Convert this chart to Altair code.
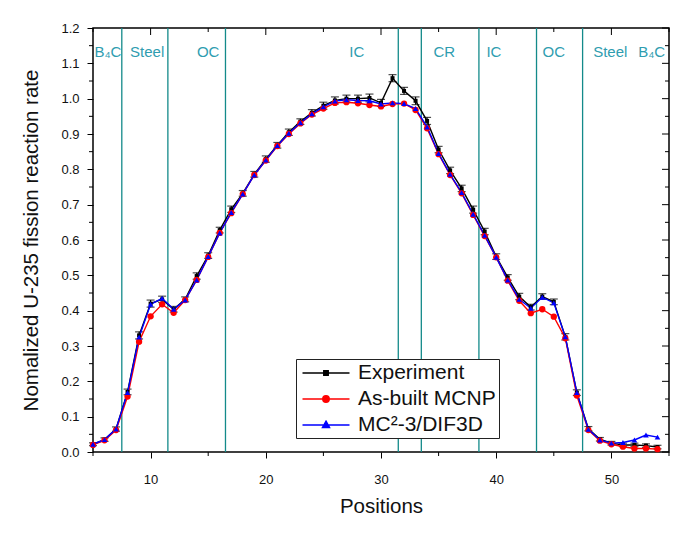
import altair as alt
import pandas as pd

positions = list(range(5, 55))
experiment = [0.022, 0.035, 0.065, 0.170, 0.330, 0.420, 0.432, 0.404, 0.432, 0.498,
              0.556, 0.628, 0.687, 0.732, 0.786, 0.829, 0.868, 0.905, 0.935, 0.960,
              0.980, 0.995, 1.000, 1.000, 1.002, 0.988, 1.058, 1.022, 0.994, 0.937,
              0.856, 0.797, 0.746, 0.686, 0.624, 0.553, 0.494, 0.440, 0.410, 0.440,
              0.425, 0.326, 0.168, 0.066, 0.036, 0.025, 0.020, 0.020, 0.018, 0.014]
exp_err = [0.004, 0.005, 0.006, 0.008, 0.010, 0.010, 0.009, 0.008, 0.007, 0.009,
           0.008, 0.008, 0.009, 0.008, 0.008, 0.009, 0.008, 0.009, 0.008, 0.009,
           0.010, 0.010, 0.010, 0.010, 0.011, 0.010, 0.010, 0.010, 0.011, 0.010,
           0.009, 0.009, 0.009, 0.010, 0.009, 0.008, 0.008, 0.009, 0.008, 0.008,
           0.008, 0.009, 0.008, 0.006, 0.005, 0.005, 0.005, 0.005, 0.005, 0.005]
mcnp = [0.020, 0.033, 0.062, 0.157, 0.312, 0.384, 0.418, 0.394, 0.430, 0.487,
        0.552, 0.620, 0.676, 0.730, 0.784, 0.825, 0.866, 0.900, 0.930, 0.955,
        0.972, 0.988, 0.990, 0.987, 0.982, 0.978, 0.985, 0.986, 0.968, 0.916,
        0.843, 0.784, 0.732, 0.671, 0.611, 0.551, 0.485, 0.428, 0.393, 0.404,
        0.383, 0.322, 0.160, 0.062, 0.032, 0.022, 0.015, 0.010, 0.010, 0.008]
mc2 = [0.022, 0.035, 0.065, 0.168, 0.325, 0.418, 0.435, 0.404, 0.430, 0.487,
       0.553, 0.620, 0.678, 0.730, 0.784, 0.826, 0.867, 0.902, 0.932, 0.957,
       0.977, 0.993, 0.997, 0.995, 0.994, 0.985, 0.988, 0.986, 0.972, 0.920,
       0.845, 0.786, 0.734, 0.673, 0.613, 0.551, 0.487, 0.432, 0.407, 0.438,
       0.422, 0.326, 0.168, 0.064, 0.034, 0.025, 0.027, 0.034, 0.048, 0.042]

boundaries = [7.5, 11.5, 16.5, 31.5, 33.5, 38.5, 43.5, 47.5]
region_names = ["B\u2084C", "Steel", "OC", "IC", "CR", "IC", "OC", "Steel", "B\u2084C"]
region_x = [6.3, 9.7, 15.0, 27.9, 35.5, 39.8, 45.0, 49.9, 53.5]
x_major = [10, 20, 30, 40, 50]
x_minor = [5, 15, 25, 35, 45, 55]
y_major = [0.0, 0.1, 0.2, 0.3, 0.4, 0.5, 0.6, 0.7, 0.8, 0.9, 1.0, 1.1, 1.2]
y_minor = [0.05, 0.15, 0.25, 0.35, 0.45, 0.55, 0.65, 0.75, 0.85, 0.95, 1.05, 1.15]
series_names = ["Experiment", "As-built MCNP", "MC\u00b2-3/DIF3D"]
series_colors = ["#000000", "#ff0000", "#0000ff"]
# legend symbols: a line with the series marker on it
legend_paths = [
    "M-2.35,0L2.35,0M-0.22,-0.22L0.22,-0.22L0.22,0.22L-0.22,0.22Z",
    "M-2.35,0L2.35,0M-0.32,0A0.32,0.32,0,1,0,0.32,0A0.32,0.32,0,1,0,-0.32,0Z",
    "M-2.35,0L2.35,0M0,-0.38L0.35,0.26L-0.35,0.26Z",
]

W, H = 576, 424
FONT = "Liberation Sans"
TEAL = "#138a8a"
XT = "Positions"
YT = "Nomalized U-235 fission reaction rate"

rows = []
for name, vals in zip(series_names, [experiment, mcnp, mc2]):
    for p, v in zip(positions, vals):
        rows.append({"series": name, "pos": p, "value": v})
df = pd.DataFrame(rows)
edf = pd.DataFrame({"pos": positions, "value": experiment, "err": exp_err})
edf["lo"] = edf["value"] - edf["err"]
edf["hi"] = edf["value"] + edf["err"]

xscale = alt.Scale(domain=[5, 55], nice=False, zero=False)
yscale = alt.Scale(domain=[0, 1.2], nice=False, zero=False)
xaxis = alt.Axis(values=x_major, title=XT, grid=False, tickSize=6, tickColor="black",
                 domain=False, labelFont=FONT, labelFontSize=13, labelColor="#111",
                 labelPadding=15, labelOverlap=False, titleFont=FONT, titleFontSize=20.5,
                 titleFontWeight="normal", titleColor="#111", titlePadding=10, format="d")
yaxis = alt.Axis(values=y_major, title=YT, grid=False, tickSize=6, tickColor="black",
                 domain=False, labelFont=FONT, labelFontSize=13, labelColor="#111",
                 labelPadding=8, labelOverlap=False, format=".1f", titleFont=FONT,
                 titleFontSize=20.5, titleFontWeight="normal", titleColor="#111",
                 titlePadding=19)


def xe(field="pos"):
    return alt.X(f"{field}:Q", scale=xscale, axis=xaxis, title=XT)


def ye(field="value"):
    return alt.Y(f"{field}:Q", scale=yscale, axis=yaxis, title=YT)


bnd = alt.Chart(pd.DataFrame({"pos": boundaries})).mark_rule(
    color=TEAL, strokeWidth=1.3).encode(x=xe())

labels = alt.Chart(pd.DataFrame({"pos": region_x, "name": region_names,
                                 "value": [1.132] * len(region_x)})).mark_text(
    font=FONT, fontSize=15, color="#2f9db0", baseline="middle", align="center").encode(
    x=xe(), y=ye(), text="name:N")

err = alt.Chart(edf).mark_errorbar(ticks={"size": 8, "thickness": 1.2}, color="black",
                                   thickness=1.2).encode(
    x=xe(), y=ye("lo"), y2="hi:Q")

shapes = ["square", "circle", "triangle-up"]
sizes = [16, 40, 32]
lines, pts = [], []
for name, col, shp, sz in zip(series_names, series_colors, shapes, sizes):
    sub = df[df["series"] == name]
    lines.append(alt.Chart(sub).mark_line(strokeWidth=1.4, color=col).encode(x=xe(), y=ye()))
    pts.append(alt.Chart(sub).mark_point(
        shape=shp, size=sz, filled=True, color=col, opacity=1).encode(x=xe(), y=ye()))

cscale = alt.Scale(domain=series_names, range=series_colors)
lg = alt.Legend(orient="none", legendX=203, legendY=331, title=None,
                strokeColor="#222", fillColor="white", padding=3,
                labelFont=FONT, labelFontSize=21, labelColor="#111",
                symbolSize=400, symbolOffset=16, labelOffset=21,
                symbolStrokeWidth=1.5, symbolOpacity=1, rowPadding=5)
leg = alt.Chart(df).mark_point(filled=True, size=0).encode(
    x=xe(), y=ye(),
    fill=alt.Fill("series:N", scale=cscale, legend=lg),
    stroke=alt.Stroke("series:N", scale=cscale, legend=lg),
    shape=alt.Shape("series:N", scale=alt.Scale(domain=series_names, range=legend_paths),
                    legend=lg),
)


def vt(vals, y0, y1):
    return alt.Chart(pd.DataFrame({"pos": vals})).mark_rule(color="black", strokeWidth=1).encode(
        x=xe(), y=alt.value(y0), y2=alt.value(y1))


def ht(vals, x0, x1):
    return alt.Chart(pd.DataFrame({"value": vals})).mark_rule(color="black", strokeWidth=1).encode(
        y=ye(), x=alt.value(x0), x2=alt.value(x1))


ticks = [vt(x_minor, H, H + 4), vt(x_major, 0, 7), vt(x_minor, 0, 4),
         ht(y_minor, -4, 0), ht(y_major, W, W - 7), ht(y_minor, W, W - 4)]

chart = alt.layer(bnd, labels, *ticks, err, *lines, *pts, leg).properties(
    width=W, height=H,
    padding={"left": 85, "top": 20, "right": 19, "bottom": 65},
    autosize=alt.AutoSizeParams(type="none"),
).configure_view(stroke="black", strokeWidth=1.5)

chart.save("out.html", embed_options={"renderer": "svg", "actions": False})
